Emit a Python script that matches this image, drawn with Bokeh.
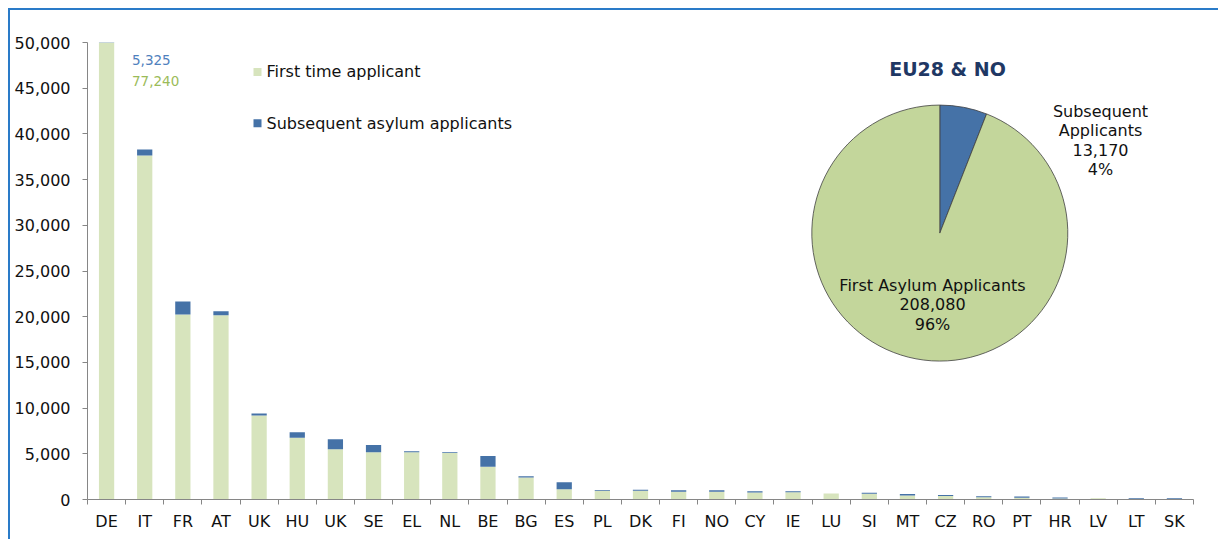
import math
from bokeh.plotting import figure
from bokeh.models import (ColumnDataSource, Range1d, FixedTicker, NumeralTickFormatter)
from bokeh.core.properties import value
from bokeh.embed import file_html
from bokeh.resources import INLINE

# ---------------- data ----------------
countries = ["DE", "IT", "FR", "AT", "UK", "HU", "UK", "SE", "EL", "NL",
             "BE", "BG", "ES", "PL", "DK", "FI", "NO", "CY", "IE", "LU",
             "SI", "MT", "CZ", "RO", "PT", "HR", "LV", "LT", "SK"]
first_time = [77240, 37650, 20250, 20150, 9200, 6750, 5500, 5180, 5180, 5100,
              3570, 2400, 1130, 950, 950, 850, 850, 770, 780, 660,
              630, 440, 370, 250, 200, 120, 130, 40, 30]
subsequent = [5325, 650, 1400, 450, 200, 620, 1100, 770, 110, 80,
              1200, 150, 770, 100, 130, 150, 170, 130, 130, 10,
              120, 170, 110, 110, 130, 110, 10, 100, 110]
series_names = ["First time applicant", "Subsequent asylum applicants"]
y_ticks = list(range(0, 50001, 5000))

pie_title = "EU28 & NO"
pie_names = ["Subsequent\nApplicants", "First Asylum Applicants"]
pie_values = [13170, 208080]
pie_pct = ["4%", "96%"]

# ---------------- style ----------------
GREEN = "#D7E4BD"
BLUE = "#4572A7"
PIE_GREEN = "#C3D69B"
PIE_BLUE = "#4572A7"
AXIS = "#868686"
FONT = "DejaVu Sans"
TXT = "#111111"

p = figure(width=1210, height=531, output_backend="svg", toolbar_location=None,
           x_range=Range1d(0, len(countries)), y_range=Range1d(0, 50000),
           min_border_left=77, min_border_right=27, min_border_top=32,
           min_border_bottom=42)
p.styles = {"border-left": "2px solid #2A7BC8", "border-top": "2px solid #2A7BC8",
            "margin-left": "8px", "margin-top": "8px"}
p.outline_line_color = None
p.xgrid.visible = False
p.ygrid.visible = False
p.background_fill_color = "white"
p.border_fill_color = "white"

# page-pixel helper ranges for overlay elements
p.extra_x_ranges = {"px": Range1d(87, 1193)}
p.extra_y_ranges = {"px": Range1d(-499.3, -42)}

# ---------------- bars ----------------
src = ColumnDataSource(dict(
    x=[i + 0.5 for i in range(len(countries))],
    first=first_time, sub=subsequent))
p.vbar_stack(["first", "sub"], x="x", width=0.4, color=[GREEN, BLUE],
             line_color=None, source=src)

# ---------------- axes ----------------
xa = p.xaxis[0]
xa.ticker = FixedTicker(ticks=[i + 0.5 for i in range(len(countries))],
                        minor_ticks=list(range(len(countries) + 1)))
xa.major_label_overrides = {i + 0.5: c for i, c in enumerate(countries)}
xa.major_tick_out = 0
xa.major_tick_in = 0
xa.minor_tick_out = 5
xa.minor_tick_in = 0
xa.minor_tick_line_color = AXIS
xa.axis_line_color = AXIS
xa.major_label_text_font = FONT
xa.major_label_text_font_size = "16px"
xa.major_label_text_color = TXT
xa.major_label_standoff = 7

ya = p.yaxis[0]
ya.ticker = FixedTicker(ticks=y_ticks, minor_ticks=[])
ya.formatter = NumeralTickFormatter(format="0,0")
ya.major_tick_out = 5
ya.major_tick_in = 0
ya.major_tick_line_color = AXIS
ya.axis_line_color = AXIS
ya.major_label_text_font = FONT
ya.major_label_text_font_size = "16px"
ya.major_label_text_color = TXT
ya.major_label_standoff = 12

# ---------------- DE overflow labels ----------------
p.text(x=[131.5], y=[-59.5], text=[f"{subsequent[0]:,}"], x_range_name="px",
       y_range_name="px", text_font=value(FONT), text_font_size="13.5px",
       text_color="#4F81BD", text_align="left", text_baseline="middle")
p.text(x=[131.5], y=[-80.5], text=[f"{first_time[0]:,}"], x_range_name="px",
       y_range_name="px", text_font=value(FONT), text_font_size="13.5px",
       text_color="#9BBB59", text_align="left", text_baseline="middle")

# ---------------- legend ----------------
p.rect(x=[257, 257], y=[-71.5, -122.8], width=8, height=8,
       width_units="screen", height_units="screen",
       fill_color=[GREEN, BLUE], line_color=None,
       x_range_name="px", y_range_name="px")
p.text(x=[266, 266], y=[-71, -123], text=series_names, x_range_name="px",
       y_range_name="px", text_font=value(FONT), text_font_size="16px",
       text_color=TXT, text_align="left", text_baseline="middle")

# ---------------- pie ----------------
cx, cy, r = 939.3, -232.7, 128
total = sum(pie_values)
starts, ends = [], []
a = math.pi / 2
for v in pie_values:
    starts.append(a)
    a = a - 2 * math.pi * v / total
    ends.append(a)
p.wedge(x=[cx] * len(pie_values), y=[cy] * len(pie_values), radius=r,
        radius_units="screen", start_angle=starts, end_angle=ends,
        direction="clock", fill_color=[PIE_BLUE, PIE_GREEN],
        line_color="#404040", line_width=0.8,
        x_range_name="px", y_range_name="px")

p.text(x=[947], y=[-69], text=[pie_title], x_range_name="px", y_range_name="px",
       text_font=value(FONT), text_font_size="19px", text_font_style="bold",
       text_color="#1F3864", text_align="center", text_baseline="middle")

pie_lbl = [f"{n}\n{v:,}\n{pc}" for n, v, pc in zip(pie_names, pie_values, pie_pct)]
p.text(x=[1100, 932], y=[-140, -304.5], text=pie_lbl, x_range_name="px",
       y_range_name="px", text_font=value(FONT), text_font_size="16px",
       text_color=TXT, text_align="center", text_baseline="middle",
       text_line_height=1.03)

open("out.html", "w").write(file_html(p, INLINE))
